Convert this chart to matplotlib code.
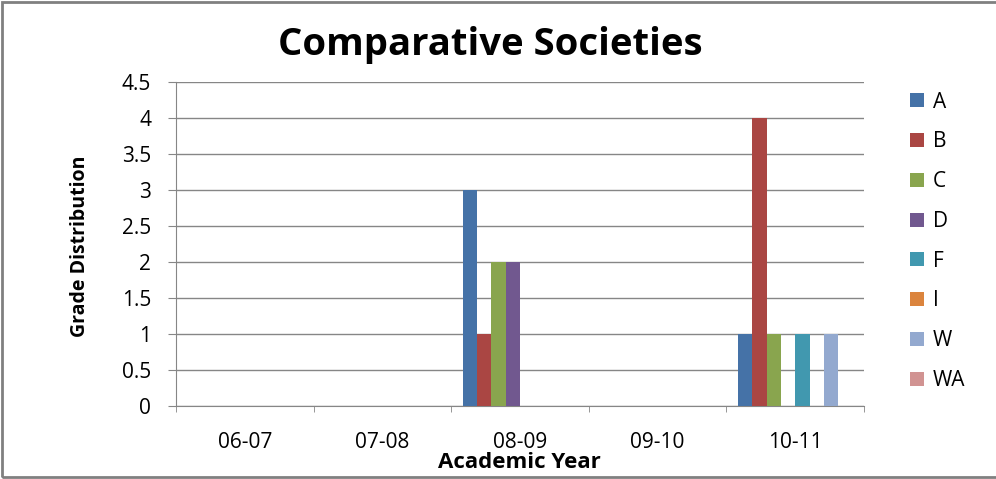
import numpy as np
import matplotlib.pyplot as plt
from matplotlib.patches import Rectangle

# Grade counts per academic year
years = ["06-07", "07-08", "08-09", "09-10", "10-11"]
grades = ["A", "B", "C", "D", "F", "I", "W", "WA"]
grade_a = [0, 0, 3, 0, 1]
grade_b = [0, 0, 1, 0, 4]
grade_c = [0, 0, 2, 0, 1]
grade_d = [0, 0, 2, 0, 0]
grade_f = [0, 0, 0, 0, 1]
grade_i = [0, 0, 0, 0, 0]
grade_w = [0, 0, 0, 0, 1]
grade_wa = [0, 0, 0, 0, 0]

series = [grade_a, grade_b, grade_c, grade_d, grade_f, grade_i, grade_w, grade_wa]
colors = ["#4572A7", "#AA4643", "#89A54E", "#71588F",
          "#4198AF", "#DB843D", "#93A9CF", "#D19392"]

plt.rcParams['font.family'] = ['Open Sans', 'DejaVu Sans']

fig = plt.figure(figsize=(9.96, 4.79), dpi=100)
ax = fig.add_axes([176 / 996, 1 - 406 / 479, 688 / 996, 324 / 479])

# Excel-like clustered bars: 8 bars per category with a gap on each side
n = len(series)
bar_w = 0.104
x = np.arange(len(years))
start = x + 0.5 - n * bar_w / 2
for i, (vals, name, col) in enumerate(zip(series, grades, colors)):
    ax.bar(start + i * bar_w + bar_w / 2, vals, width=bar_w, color=col,
           label=name, zorder=3)

ax.set_xlim(0, len(years))
ax.set_ylim(0, 4.5)
ax.set_yticks(np.arange(0, 4.51, 0.5))
ax.set_yticklabels(["0", "0.5", "1", "1.5", "2", "2.5", "3", "3.5", "4", "4.5"])
ax.set_xticks(x + 0.5)
ax.set_xticklabels(years)
ax.set_xticks(np.arange(len(years) + 1), minor=True)

grey = '#868686'
ax.grid(axis='y', color=grey, linewidth=1, zorder=0)
for side in ["top", "right"]:
    ax.spines[side].set_visible(False)
for side in ["left", "bottom"]:
    ax.spines[side].set_color(grey)
ax.tick_params(axis='y', length=6, color=grey, labelsize=15, pad=12)
ax.tick_params(axis='x', which='major', length=0, labelsize=15, pad=19)
ax.tick_params(axis='x', which='minor', length=4.5, color=grey)

ax.set_ylabel("Grade Distribution", fontsize=14, fontweight='bold',
              rotation=90, va='center')
ax.yaxis.set_label_coords(-0.1395, 0.494)
ax.set_xlabel("Academic Year", fontsize=16, fontweight='bold', va='center')
ax.xaxis.set_label_coords(0.4985, -0.173)

fig.text(0.492, 0.906, "Comparative Societies", fontsize=27.5,
         fontweight='bold', ha='center', va='center')

leg = ax.legend(loc='upper left', bbox_to_anchor=(1.040, 1.028), frameon=False,
                fontsize=15, handlelength=0.67, handleheight=0.67,
                labelspacing=0.9, handletextpad=0.4)

# Outer chart border
fig.patches.append(Rectangle((2 / 996, 2 / 479), 1.1, 1 - 4 / 479,
                             transform=fig.transFigure, fill=False,
                             edgecolor='#808080', linewidth=2))

fig.savefig("out.png", dpi=100)
